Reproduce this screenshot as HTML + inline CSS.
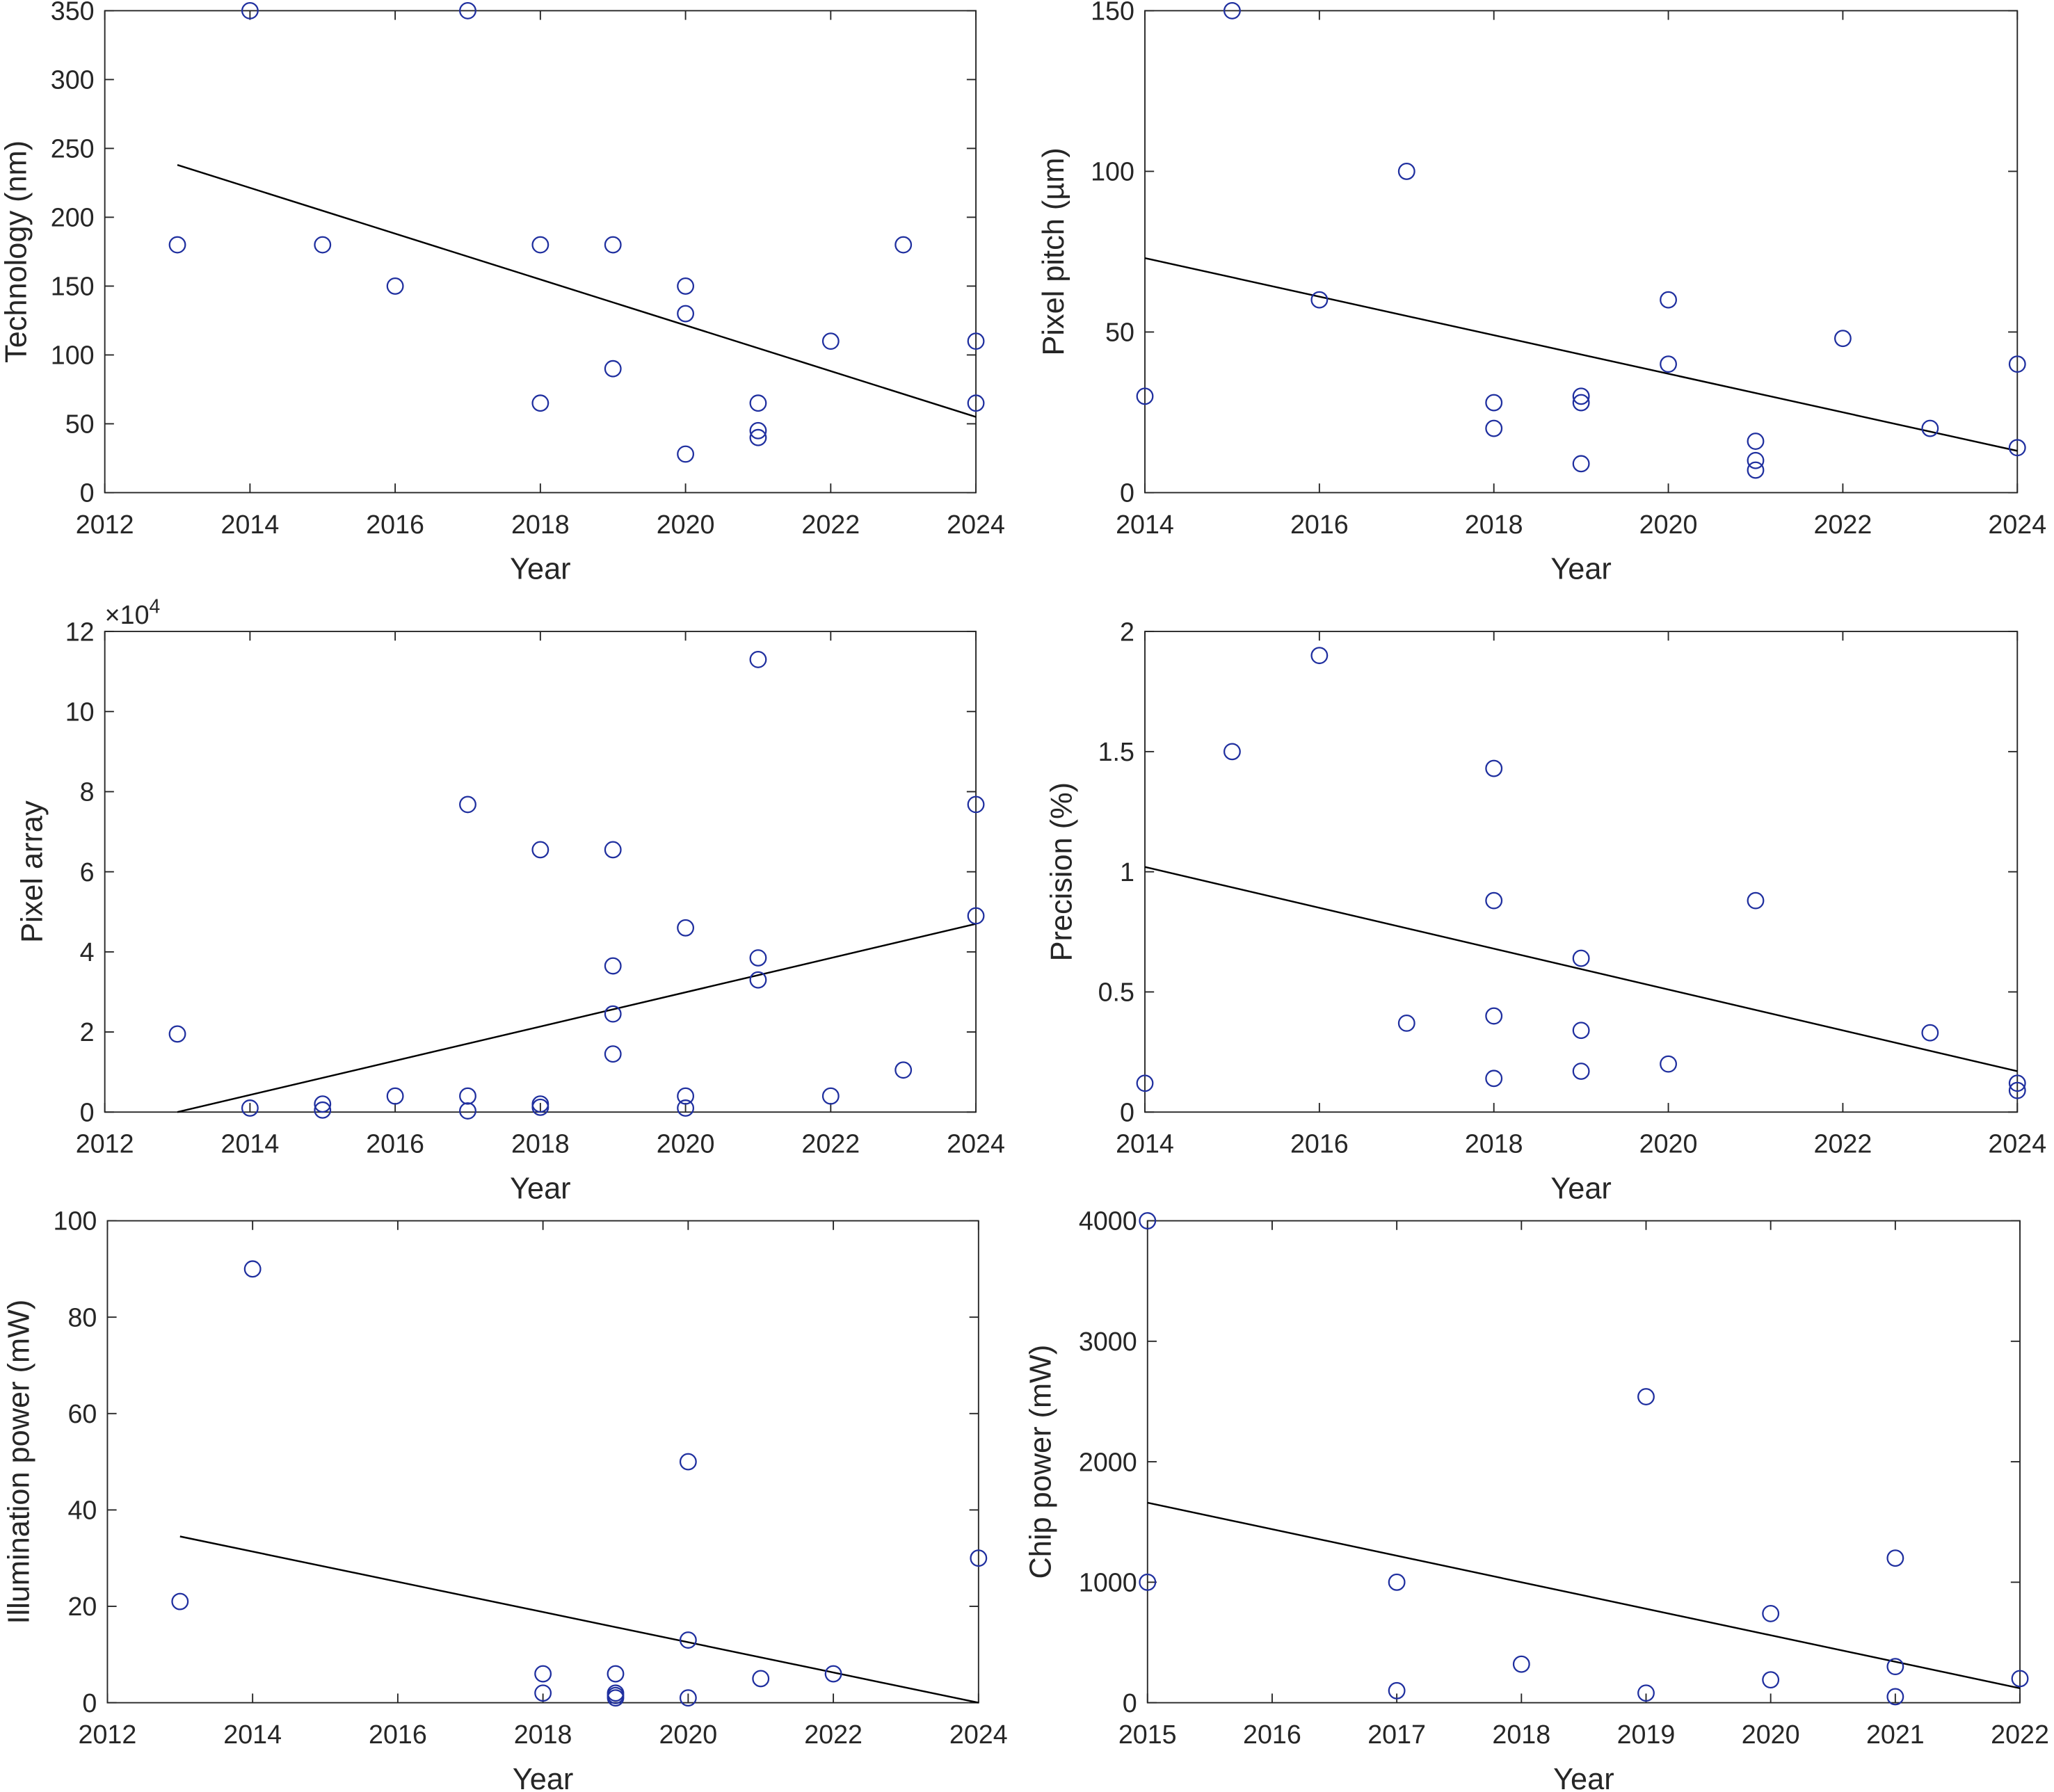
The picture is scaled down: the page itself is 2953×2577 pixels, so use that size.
<!DOCTYPE html>
<html><head><meta charset="utf-8">
<style>
html,body{margin:0;padding:0;background:#fff;}
svg{display:block;font-family:"Liberation Sans",sans-serif;}
</style></head>
<body>
<svg id="chart" width="2953" height="2577" viewBox="0 0 1568 1368" xmlns="http://www.w3.org/2000/svg"></svg>
<script>
// ---- data arrays ----
const techYears=[2013,2014,2015,2016,2017,2018,2018,2019,2019,2020,2020,2020,2021,2021,2021,2022,2023,2024,2024];
const techValues=[180,350,180,150,350,180,65,180,90,150,130,28,65,45,40,110,180,110,65];
const techFit=[238,55];
const pitchYears=[2014,2015,2016,2017,2018,2018,2019,2019,2019,2020,2020,2021,2021,2021,2022,2023,2024,2024];
const pitchValues=[30,150,60,100,28,20,30,28,9,60,40,16,10,7,48,20,40,14];
const pitchFit=[73,13];
const arrayYears=[2013,2014,2015,2015,2016,2017,2017,2017,2018,2018,2018,2019,2019,2019,2019,2020,2020,2020,2021,2021,2021,2022,2023,2024,2024];
const arrayValues=[1.95,0.1,0.2,0.05,0.4,7.68,0.4,0.03,6.55,0.2,0.12,6.55,3.65,2.45,1.45,4.6,0.4,0.1,11.3,3.85,3.3,0.4,1.05,7.68,4.9];
const arrayFit=[0,4.7];
const precYears=[2014,2015,2016,2017,2018,2018,2018,2018,2019,2019,2019,2020,2021,2023,2024,2024];
const precValues=[0.12,1.5,1.9,0.37,1.43,0.88,0.4,0.14,0.64,0.34,0.17,0.2,0.88,0.33,0.12,0.09];
const precFit=[1.02,0.17];
const illumYears=[2013,2014,2018,2018,2019,2019,2019,2019,2020,2020,2020,2021,2022,2024];
const illumValues=[21,90,6,2,6,2,1.5,1,50,13,1,5,6,30];
const illumFit=[34.5,0];
const chipYears=[2015,2015,2017,2017,2018,2019,2019,2020,2020,2021,2021,2021,2022];
const chipValues=[4000,1000,1000,100,320,2540,80,740,190,1200,300,50,200];
const chipFit=[1660,120];
const xTicksA=[2012,2014,2016,2018,2020,2022,2024];
const xTicksB=[2014,2016,2018,2020,2022,2024];
const xTicksC=[2015,2016,2017,2018,2019,2020,2021,2022];
const yTicks1=[0,50,100,150,200,250,300,350];
const yTicks2=[0,50,100,150];
const yTicks3=[0,2,4,6,8,10,12];
const yTicks4=[0,0.5,1,1.5,2];
const yTicks5=[0,20,40,60,80,100];
const yTicks6=[0,1000,2000,3000,4000];

const NS="http://www.w3.org/2000/svg";
const svg=document.getElementById('chart');
function mk(tag,attrs,parent){const e=document.createElementNS(NS,tag);for(const k in attrs)e.setAttribute(k,attrs[k]);(parent||svg).appendChild(e);return e;}

function panel(id,box,xd,yd,xt,yt,years,vals,fit,fitX,ylabel,ylx,xlabelY,expo){
  const g=mk('g',{});
  
  
  const [L,T,R,B]=box;
  const sx=v=>L+(v-xd[0])/(xd[1]-xd[0])*(R-L);
  const sy=v=>B-(v-yd[0])/(yd[1]-yd[0])*(B-T);
  const frame=mk('rect',{x:L,y:T,width:R-L,height:B-T,fill:'none',stroke:'#262626','stroke-width':1},g);
  
  
  xt.forEach(t=>{const x=sx(t);
    mk('line',{x1:x,y1:B,x2:x,y2:B-7,stroke:'#262626'},g);
    mk('line',{x1:x,y1:T,x2:x,y2:T+7,stroke:'#262626'},g);
    const tx=mk('text',{x:x,y:B+31,'font-size':20,'text-anchor':'middle',fill:'#262626'},g);
    tx.textContent=t;
    
    
  });
  yt.forEach(t=>{const y=sy(t);
    mk('line',{x1:L,y1:y,x2:L+7,y2:y,stroke:'#262626'},g);
    mk('line',{x1:R,y1:y,x2:R-7,y2:y,stroke:'#262626'},g);
    const tx=mk('text',{x:L-8,y:y+7,'font-size':20,'text-anchor':'end',fill:'#262626'},g);
    tx.textContent=t;
    
    
  });
  if(expo){const e=mk('text',{x:L,y:T-6,'font-size':20,fill:'#262626'},g);
    e.innerHTML='×10<tspan dy="-8" font-size="15">4</tspan>';
    
    }
  const xl=mk('text',{x:(L+R)/2,y:xlabelY,'font-size':23,'text-anchor':'middle',fill:'#262626'},g);
  xl.textContent='Year';
  
  
  const yl=mk('text',{x:0,y:0,'font-size':23,'text-anchor':'middle',fill:'#262626',transform:`translate(${ylx},${(T+B)/2}) rotate(-90)`},g);
  yl.textContent=ylabel;
  
  
  const ln=mk('line',{x1:sx(fitX[0]),y1:sy(fit[0]),x2:sx(fitX[1]),y2:sy(fit[1]),stroke:'#000','stroke-width':1.3},g);
  
  
  years.forEach((yr,i)=>{
    const c=mk('circle',{cx:sx(yr),cy:sy(vals[i]),r:6,fill:'none',stroke:'#1f2f9f','stroke-width':1.2},g);
    
    
  });
}
panel('technology',[80,8,745,376],[2012,2024],[0,350],xTicksA,yTicks1,techYears,techValues,techFit,[2013,2024],'Technology (nm)',20,442,false);
panel('pixel-pitch',[874,8,1540,376],[2014,2024],[0,150],xTicksB,yTicks2,pitchYears,pitchValues,pitchFit,[2014,2024],'Pixel pitch (µm)',812,442,false);
panel('pixel-array',[80,482,745,849],[2012,2024],[0,12],xTicksA,yTicks3,arrayYears,arrayValues,arrayFit,[2013,2024],'Pixel array',32,915,true);
panel('precision',[874,482,1540,849],[2014,2024],[0,2],xTicksB,yTicks4,precYears,precValues,precFit,[2014,2024],'Precision (%)',818,915,false);
panel('illumination-power',[82,932,747,1300],[2012,2024],[0,100],xTicksA,yTicks5,illumYears,illumValues,illumFit,[2013,2024],'Illumination power (mW)',22,1366,false);
panel('chip-power',[876,932,1542,1300],[2015,2022],[0,4000],xTicksC,yTicks6,chipYears,chipValues,chipFit,[2015,2022],'Chip power (mW)',802,1366,false);
</script>
</body></html>
